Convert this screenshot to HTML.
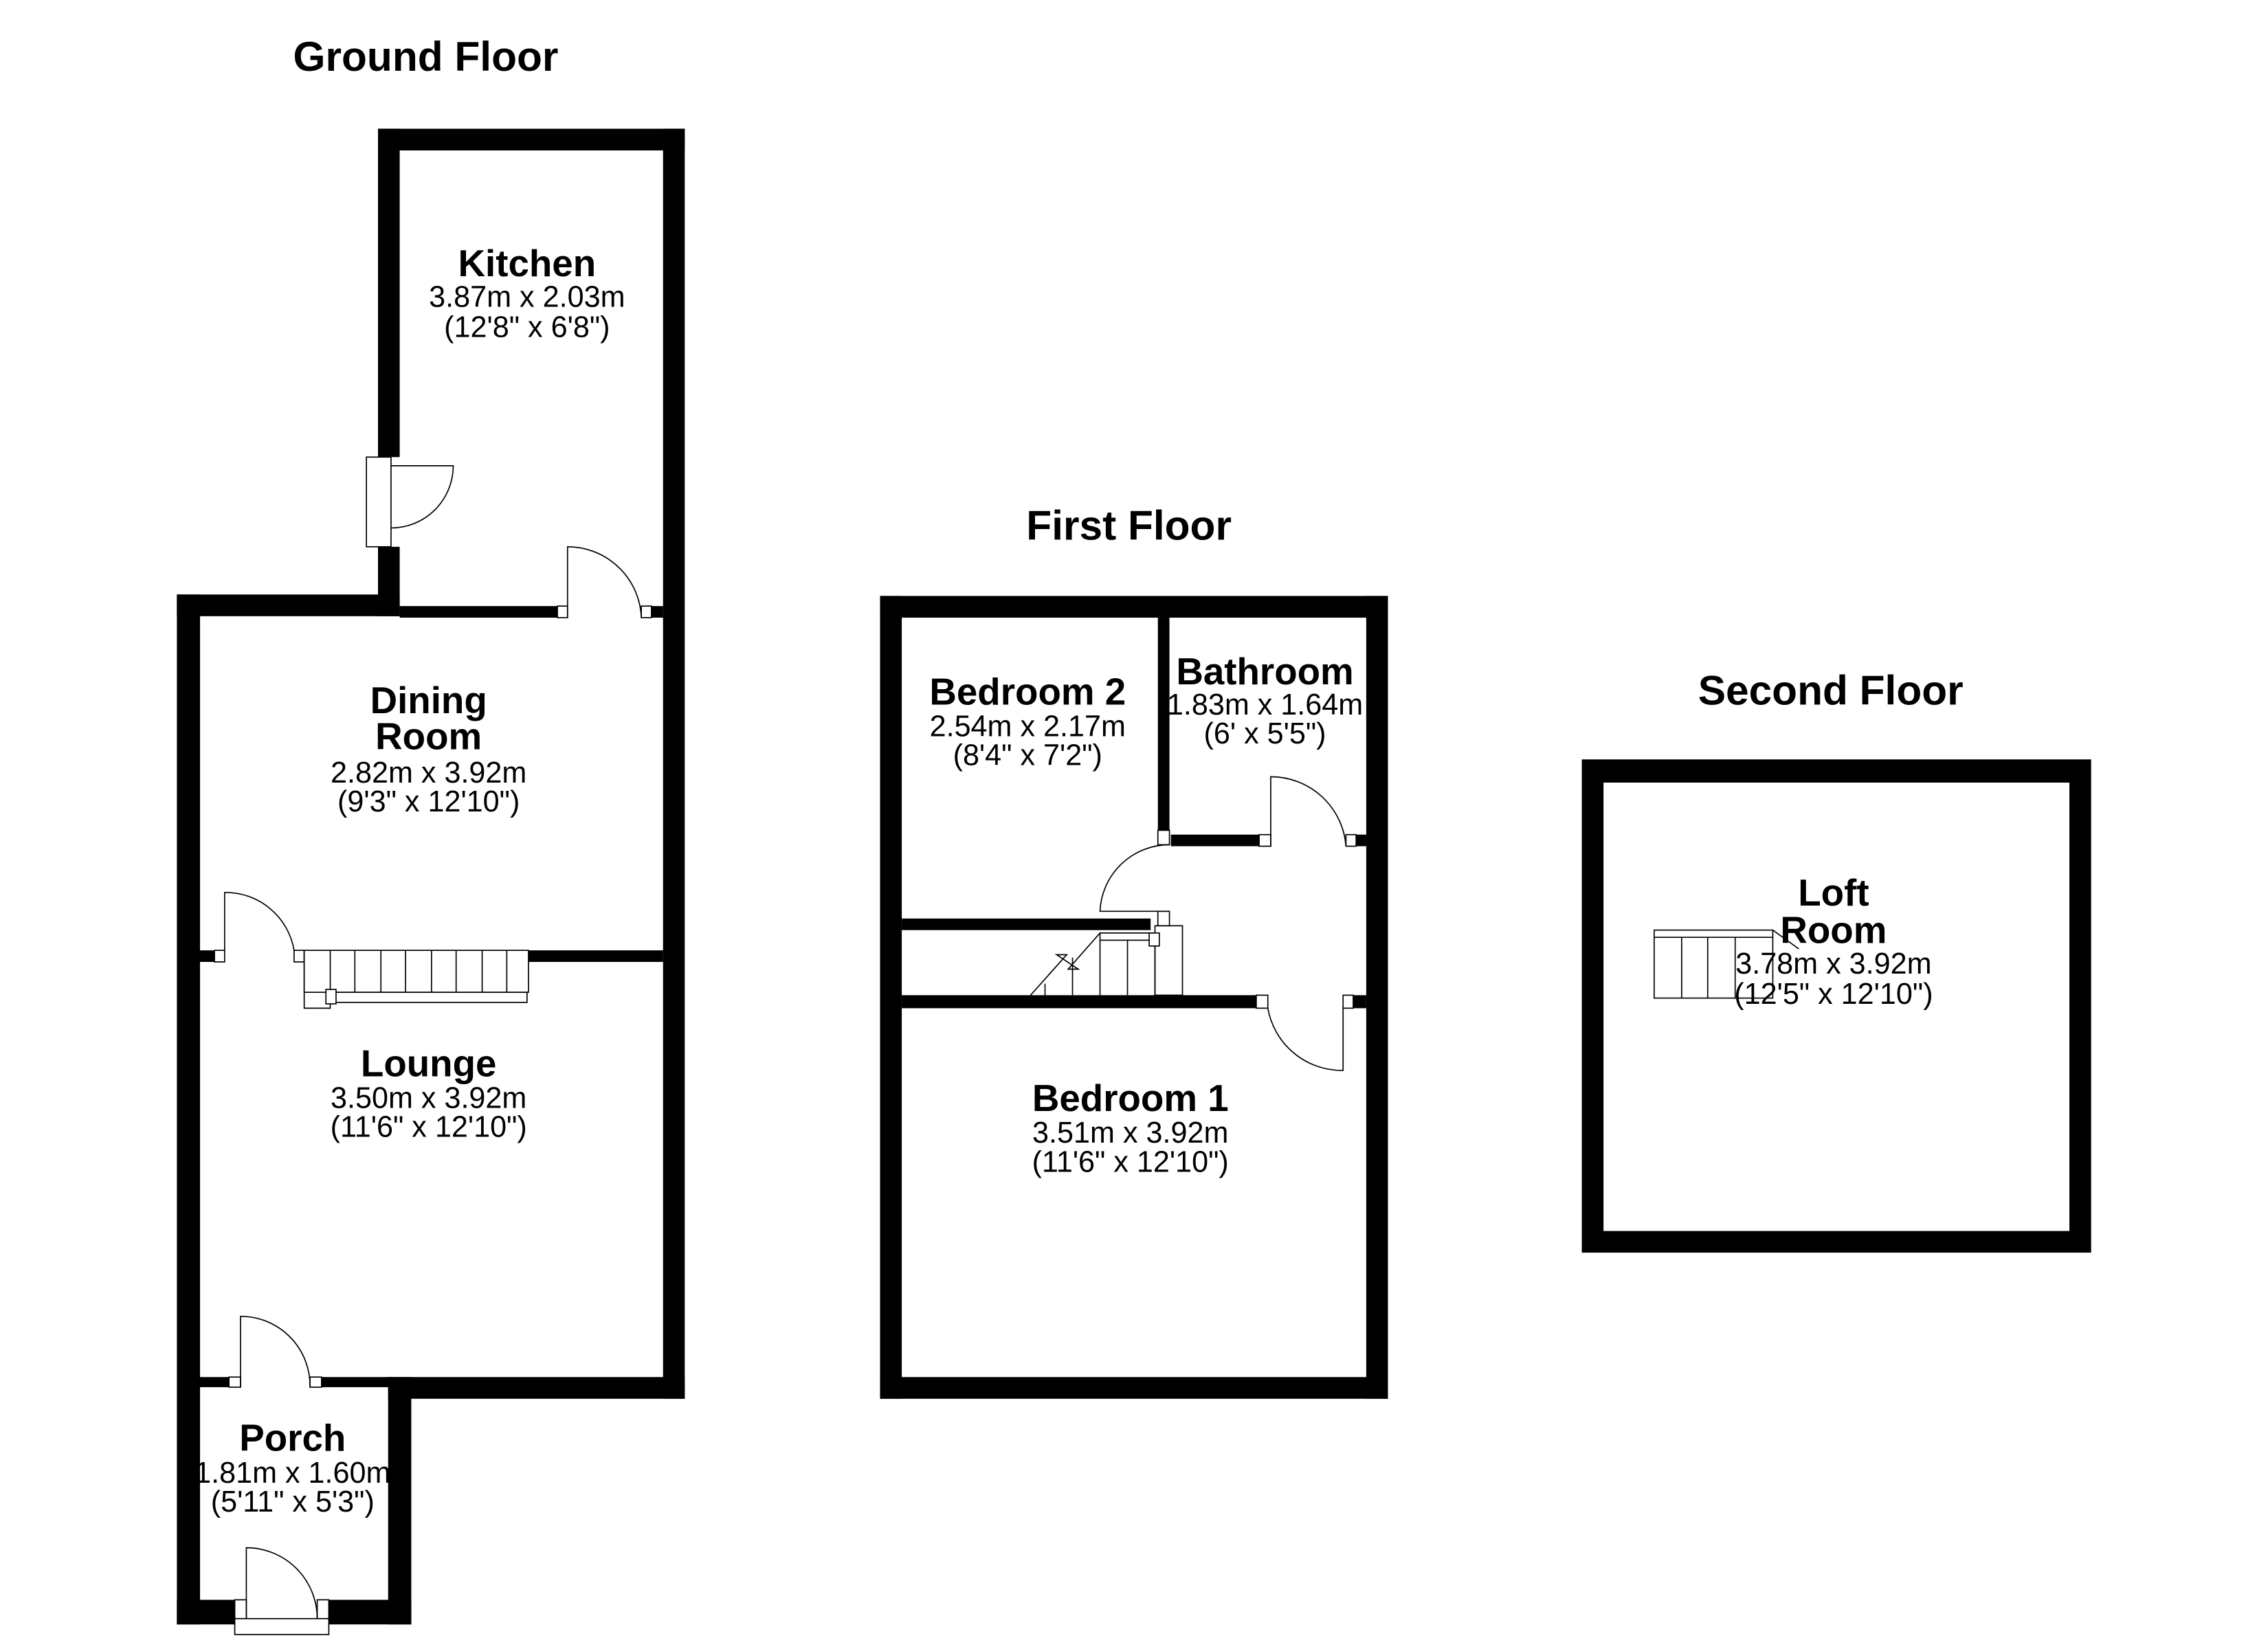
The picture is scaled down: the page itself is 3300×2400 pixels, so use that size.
<!DOCTYPE html>
<html><head><meta charset="utf-8"><style>
html,body{margin:0;padding:0;background:#fff;}
svg{display:block;}
text{font-family:"Liberation Sans",Arial,sans-serif;text-anchor:middle;fill:#000;}
.t{font-weight:bold;font-size:28.7px;}
.n{font-weight:bold;font-size:26px;}
.d{font-size:20.5px;}
.j{fill:#fff;stroke:#000;stroke-width:0.8;}
.l{fill:none;stroke:#000;stroke-width:0.8;}
</style></head><body>
<svg width="3300" height="2400" viewBox="0 0 1567 1140" xmlns="http://www.w3.org/2000/svg">
<rect width="1567" height="1140" fill="#fff"/>
<text class="t" x="294" y="49">Ground Floor</text>
<text class="t" x="780" y="373">First Floor</text>
<text class="t" x="1265" y="487">Second Floor</text>

<g fill="#000">
<rect x="261" y="89" width="212" height="15"/>
<rect x="261" y="89" width="15" height="227"/>
<rect x="261" y="378" width="15" height="48"/>
<rect x="458" y="89" width="15" height="878"/>
<rect x="122" y="411" width="154" height="15"/>
<rect x="276" y="419" width="109" height="8"/>
<rect x="450" y="419" width="8" height="8"/>
<rect x="122" y="411" width="16" height="712"/>
<rect x="137" y="657" width="11" height="8"/>
<rect x="365" y="657" width="93" height="8"/>
<rect x="268" y="952" width="205" height="15"/>
<rect x="137" y="952" width="21" height="7"/>
<rect x="222" y="952" width="50" height="7"/>
<rect x="268" y="952" width="16" height="171"/>
<rect x="122" y="1106" width="40" height="17"/>
<rect x="227" y="1106" width="57" height="17"/>
</g>
<rect class="j" x="253" y="316" width="17" height="62"/>
<path class="l" d="M270 322 H313 A43 43 0 0 1 270 365"/>
<rect class="j" x="385" y="419" width="7" height="8"/>
<rect class="j" x="443" y="419" width="7" height="8"/>
<path class="l" d="M392 427 V378 A51 51 0 0 1 443 427"/>
<rect class="j" x="148" y="657" width="7" height="8"/>
<rect class="j" x="203" y="657" width="7" height="8"/>
<path class="l" d="M155 657 V617 A48 48 0 0 1 203 657"/>
<g class="l">
<rect x="210" y="657" width="155" height="29"/>
<path d="M210 657 V697 H228 V686"/>
<path d="M228 657 V686 M245 657 V686 M263 657 V686 M280 657 V686 M298 657 V686 M315 657 V686 M333 657 V686 M350 657 V686"/>
<rect x="228" y="686" width="136" height="7"/>
<rect x="225" y="684" width="7" height="10" fill="#fff"/>
</g>
<rect class="j" x="158" y="952" width="8" height="7"/>
<rect class="j" x="214" y="952" width="8" height="7"/>
<path class="l" d="M166 959 V910 A48 48 0 0 1 214 959"/>
<rect class="j" x="162" y="1106" width="8" height="13"/>
<rect class="j" x="219" y="1106" width="8" height="13"/>
<rect class="j" x="162" y="1119" width="65" height="11"/>
<path class="l" d="M170 1119 V1070 A49 49 0 0 1 219 1119"/>

<text class="n" x="364" y="191">Kitchen</text>
<text class="d" x="364" y="212">3.87m x 2.03m</text>
<text class="d" x="364" y="233">(12'8" x 6'8")</text>
<text class="n" x="296" y="493">Dining</text>
<text class="n" x="296" y="518">Room</text>
<text class="d" x="296" y="541">2.82m x 3.92m</text>
<text class="d" x="296" y="561">(9'3" x 12'10")</text>
<text class="n" x="296" y="744">Lounge</text>
<text class="d" x="296" y="766">3.50m x 3.92m</text>
<text class="d" x="296" y="786">(11'6" x 12'10")</text>
<text class="n" x="202" y="1003">Porch</text>
<text class="d" x="202" y="1025">1.81m x 1.60m</text>
<text class="d" x="202" y="1045">(5'11" x 5'3")</text>

<g fill="#000">
<rect x="608" y="412" width="351" height="15"/>
<rect x="608" y="412" width="15" height="555"/>
<rect x="944" y="412" width="15" height="555"/>
<rect x="608" y="952" width="351" height="15"/>
<rect x="800" y="427" width="8" height="150"/>
<rect x="809" y="577" width="61" height="8"/>
<rect x="937" y="577" width="7" height="8"/>
<rect x="623" y="635" width="172" height="8"/>
<rect x="623" y="688" width="245" height="9"/>
<rect x="935" y="688" width="9" height="9"/>
</g>
<rect class="j" x="800" y="574" width="8" height="10"/>
<rect class="j" x="800" y="630" width="8" height="10"/>
<path class="l" d="M808 630 H760 A48 48 0 0 1 808 584"/>
<rect class="j" x="870" y="577" width="8" height="8"/>
<rect class="j" x="930" y="577" width="7" height="8"/>
<path class="l" d="M878 585 V537 A52 52 0 0 1 930 585"/>
<rect class="j" x="868" y="688" width="8" height="9"/>
<rect class="j" x="928" y="688" width="7" height="9"/>
<path class="l" d="M928 697 V740 A52 52 0 0 1 876 697"/>
<g class="l">
<rect x="798" y="640" width="19" height="48"/>
<rect x="760" y="645" width="38" height="5"/>
<path d="M760 650 V688 M779 650 V688 M798 650 V688 M741 662 V688 M722 680 V688"/>
<path d="M712 688 L737 660 L730 660 L745 670 L738 670 L760 645"/>
<rect x="794" y="645" width="7" height="9" fill="#fff"/>
</g>
<text class="n" x="710" y="487">Bedroom 2</text>
<text class="d" x="710" y="509">2.54m x 2.17m</text>
<text class="d" x="710" y="529">(8'4" x 7'2")</text>
<text class="n" x="874" y="473">Bathroom</text>
<text class="d" x="874" y="494">1.83m x 1.64m</text>
<text class="d" x="874" y="514">(6' x 5'5")</text>
<text class="n" x="781" y="768">Bedroom 1</text>
<text class="d" x="781" y="790">3.51m x 3.92m</text>
<text class="d" x="781" y="810">(11'6" x 12'10")</text>

<path fill="#000" fill-rule="evenodd" d="M1093 525 H1445 V866 H1093 Z M1108 541 V851 H1430 V541 Z"/>
<g class="l">
<rect x="1143" y="643" width="82" height="47"/>
<path d="M1143 648 H1225 M1162 648 V690 M1180 648 V690 M1199 648 V690"/>
<path d="M1225 643 L1243 656"/>
</g>
<text class="n" x="1267" y="626">Loft</text>
<text class="n" x="1267" y="652">Room</text>
<text class="d" x="1267" y="673">3.78m x 3.92m</text>
<text class="d" x="1267" y="694">(12'5" x 12'10")</text>
</svg>
</body></html>
